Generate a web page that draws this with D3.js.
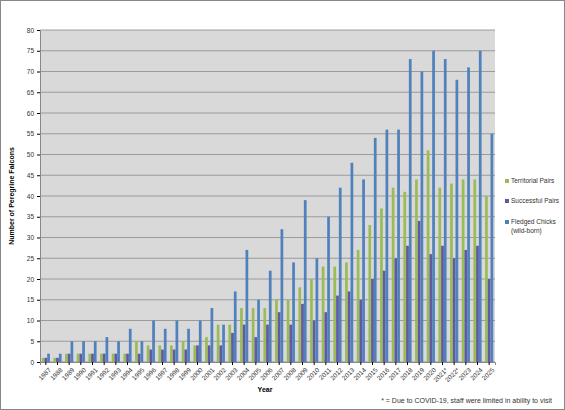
<!DOCTYPE html>
<html><head><meta charset="utf-8">
<script src="https://cdn.jsdelivr.net/npm/d3@7"></script>
<style>body{margin:0;background:#fff;}</style>
</head><body>
<div id="chart"></div>
<script>
var w = 565, h = 410;
var margin = {left: 40, right: 70, top: 30, bottom: 48};

var years = ["1987","1988","1989","1990","1991","1992","1993","1994","1995","1996","1997","1998","1999","2000","2001","2002","2003","2004","2005","2006","2007","2008","2009","2010","2011","2012","2013","2014","2015","2016","2017","2018","2019","2020","2021*","2022*","2023","2024","2025"];
var territorial = [1,1,2,2,2,2,2,2,5,4,4,4,5,4,6,9,9,13,13,13,15,15,18,20,23,23,24,27,33,37,42,41,44,51,42,43,44,44,40];
var successful = [1,1,2,2,2,2,2,2,2,3,3,3,3,4,4,4,7,9,6,9,12,9,14,10,12,16,17,15,20,22,25,28,34,26,28,25,27,28,20];
var fledged = [2,2,5,5,5,6,5,8,5,10,8,10,8,10,13,9,17,27,15,22,32,24,39,25,35,42,48,44,54,56,56,73,70,75,73,68,71,75,55];
var seriesNames = ["Territorial Pairs", "Successful Pairs", "Fledged Chicks"];
var colors = ["#9bbb59", "#5f5aa2", "#4f81bd"];
var yTicks = d3.range(0, 81, 5);

var svg = d3.select("#chart").append("svg").attr("width", w).attr("height", h)
    .style("font-family", "Liberation Sans, Arial, sans-serif");

svg.append("rect").attr("x", 0.5).attr("y", 0.5).attr("width", w - 1).attr("height", h - 1)
    .attr("fill", "#fff").attr("stroke", "#888");

var xScale = d3.scaleBand().domain(years).range([margin.left, w - margin.right]).paddingInner(0.3).paddingOuter(0.15);
var xSub = d3.scaleBand().domain([0, 1, 2]).range([0, xScale.bandwidth()]);
var yScale = d3.scaleLinear().domain([0, 80]).range([h - margin.bottom, margin.top]);

svg.append("rect").attr("x", margin.left).attr("y", margin.top)
    .attr("width", w - margin.left - margin.right).attr("height", h - margin.top - margin.bottom)
    .attr("fill", "#d9d9d9");

//Gridlines
svg.append("g").selectAll("line").data(yTicks).enter().append("line")
    .attr("x1", margin.left).attr("x2", w - margin.right)
    .attr("y1", d => yScale(d)).attr("y2", d => yScale(d))
    .attr("stroke", "#8c8c8c").attr("stroke-width", 0.8);

var data = [territorial, successful, fledged];
data.forEach(function (vals, i) {
    svg.append("g").selectAll("rect").data(vals).enter().append("rect")
        .attr("x", (d, j) => xScale(years[j]) + xSub(i))
        .attr("width", xSub.bandwidth())
        .attr("y", d => yScale(d))
        .attr("height", d => yScale(0) - yScale(d))
        .attr("fill", colors[i]);
});

//Y axis
var yAxis = svg.append("g").attr("transform", "translate(" + margin.left + ",0)")
    .call(d3.axisLeft(yScale).tickValues(yTicks).tickSize(3));
yAxis.select(".domain").attr("stroke", "#888");
yAxis.selectAll("text").attr("font-size", "6.5px").attr("fill", "#333");

//X axis
var xAxis = svg.append("g").attr("transform", "translate(0," + (h - margin.bottom) + ")")
    .call(d3.axisBottom(xScale).tickSize(3));
xAxis.select(".domain").attr("stroke", "#888");
xAxis.selectAll("text").attr("font-size", "6.5px").attr("fill", "#333")
    .attr("text-anchor", "end").attr("dx", "-2").attr("dy", "4")
    .attr("transform", "rotate(-45)");

svg.append("text").attr("x", 265).attr("y", 392).attr("text-anchor", "middle")
    .attr("font-size", "7px").attr("font-weight", "bold").text("Year");

svg.append("text").attr("transform", "translate(14," + ((margin.top + h - margin.bottom) / 2) + ") rotate(-90)")
    .attr("text-anchor", "middle").attr("font-size", "7px").attr("font-weight", "bold")
    .text("Number of Peregrine Falcons");

svg.append("text").attr("x", 552).attr("y", 403).attr("text-anchor", "end")
    .attr("font-size", "7px").attr("fill", "#333")
    .text("* = Due to COVID-19, staff were limited in ability to visit");

//Legend
var legendY = [183, 203, 224];
seriesNames.forEach(function (name, i) {
    svg.append("rect").attr("x", 505).attr("y", legendY[i] - 4).attr("width", 4).attr("height", 4).attr("fill", colors[i]);
    svg.append("text").attr("x", 511).attr("y", legendY[i]).attr("font-size", "6.5px").attr("fill", "#333").text(name);
});
svg.append("text").attr("x", 511).attr("y", legendY[2] + 9).attr("font-size", "6.5px").attr("fill", "#333").text("(wild-born)");
</script>
</body></html>
